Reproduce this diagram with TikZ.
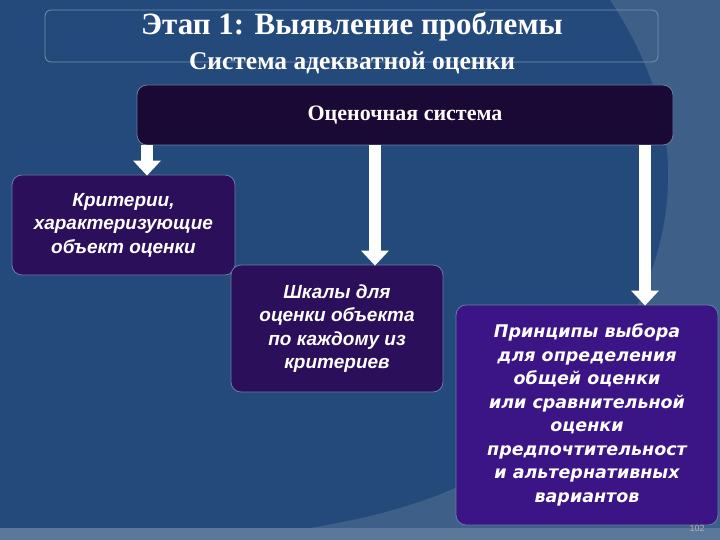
\documentclass[tikz,border=0pt]{standalone}
\usepackage{fontspec}
\setmainfont{Liberation Serif}
\newfontfamily\boxfont{Liberation Sans}
\newfontfamily\widefont{DejaVu Sans}
\usetikzlibrary{arrows.meta}
\definecolor{bgA}{HTML}{234A7B}
\definecolor{bgB}{HTML}{3E5F88}
\definecolor{topc}{HTML}{1A0835}
\definecolor{boxa}{HTML}{2B0F5A}
\definecolor{boxc}{HTML}{3B1585}
\tikzset{
  sbox/.style={draw=bgB!80!white, line width=0.8pt, rounded corners=10pt, text=white,
    font=\boxfont\bfseries\itshape\fontsize{19}{23.5}\selectfont, align=center, inner sep=0pt},
  barrow/.style={draw=white, line width=12pt, -{Triangle[width=27pt,length=15pt]}, shorten >=-1pt}
}
\begin{document}
\begin{tikzpicture}[x=1pt,y=-1pt]
\useasboundingbox (0,0) rectangle (720,540);
\fill[bgA] (0,0) rectangle (720,540);
\fill[bgB] (610,0) .. controls (690,120) and (700,260) .. (560,420) .. controls (470,500) and (380,520) .. (230,540) -- (720,540) -- (720,0) -- cycle;
\fill[bgB!85!white] (0,528) rectangle (720,540);
\draw[bgB!70!white, line width=0.8pt, rounded corners=6pt] (45,10) rectangle (658,62);
\node[text=white, font=\bfseries\fontsize{31}{34}\selectfont] (t1) at (352,27) {Этап 1: Выявление проблемы};
\node[text=white, font=\bfseries\fontsize{25.5}{28}\selectfont] (t2) at (352,63) {Система адекватной оценки};
\node[sbox, fill=topc, minimum width=536pt, minimum height=60pt, font=\bfseries\fontsize{22}{25}\selectfont] (top) at (405,115) {Оценочная система};
\node[sbox, fill=boxa, minimum width=223pt, minimum height=100pt] (b1) at (123.5,225) {Критерии,\\характеризующие\\объект оценки};
\node[sbox, fill=boxa, minimum width=212pt, minimum height=127pt] (b2) at (337,328.5) {Шкалы для\\оценки объекта\\по каждому из\\критериев};
\node[sbox, fill=boxc, minimum width=262pt, minimum height=220pt, font=\widefont\bfseries\itshape\fontsize{17.5}{23.5}\selectfont] (b3) at (587,415) {Принципы выбора\\для определения\\общей оценки\\или сравнительной\\оценки\\предпочтительност\\и альтернативных\\вариантов};
\coordinate (x1) at (147,0);
\coordinate (x2) at (375,0);
\coordinate (x3) at (645,0);
\draw[barrow] (top.south -| x1) -- (b1.north -| x1);
\draw[barrow] (top.south -| x2) -- (b2.north -| x2);
\draw[barrow] (top.south -| x3) -- (b3.north -| x3);
\node[text=gray!60!white, font=\boxfont\fontsize{9}{10}\selectfont] (pg) at (697,528) {102};
\end{tikzpicture}
\end{document}
